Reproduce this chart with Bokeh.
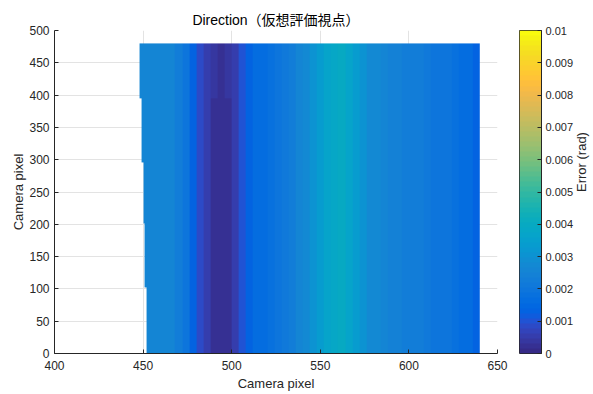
import numpy as np
from bokeh.plotting import figure
from bokeh.layouts import row
from bokeh.models import LinearColorMapper, FixedTicker, Range1d, LinearAxis
from bokeh.embed import file_html
from bokeh.resources import INLINE

FONT = "Liberation Sans, Noto Sans CJK JP"
TXT = "#262626"

title_text = "Direction（仮想評価視点）"
x_label = "Camera pixel"
y_label = "Camera pixel"
cb_label = "Error (rad)"

x_ticks = [400, 450, 500, 550, 600, 650]
y_ticks = [0, 50, 100, 150, 200, 250, 300, 350, 400, 450, 500]
cb_ticks = [0, 0.001, 0.002, 0.003, 0.004, 0.005, 0.006, 0.007, 0.008, 0.009, 0.01]
cb_tick_labels = ["0", "0.001", "0.002", "0.003", "0.004", "0.005", "0.006",
                  "0.007", "0.008", "0.009", "0.01"]

# column start positions (each column 4 camera pixels wide) and mid-height error profile
col_x = [448, 452, 456, 460, 464, 468, 472, 476, 480, 484, 488, 492, 496, 500, 504,
         508, 512, 516, 520, 524, 528, 532, 536, 540, 544, 548, 552, 556, 560, 564,
         568, 572, 576, 580, 584, 588, 592, 596, 600, 604, 608, 612, 616, 620, 624,
         628, 632, 636]
err_mid = [0.0026, 0.0026, 0.0026, 0.0026, 0.0025, 0.0023, 0.0019, 0.0013, 0.0009,
           0.0005, 0.0003, 0.0002, 0.0003, 0.0006, 0.0010, 0.0014, 0.0016, 0.0017,
           0.0018, 0.0019, 0.0021, 0.0023, 0.0025, 0.0027, 0.0030, 0.0033, 0.0036,
           0.0039, 0.0040, 0.0037, 0.0033, 0.0030, 0.0028, 0.0027, 0.0025, 0.0024,
           0.0024, 0.0023, 0.0023, 0.0022, 0.0021, 0.0020, 0.0020, 0.0019, 0.0018,
           0.0017, 0.0016, 0.0014]
x_right = 640

# horizontal bands (bottom to top), their left edge, and the dark-band values per band
band_bottom = [0, 102, 201, 296, 395]
band_top = [102, 201, 296, 395, 480]
band_left = [452, 451, 450, 449, 448]
dark_x = [480, 484, 488, 492, 496, 500, 504]
dark_by_band = [
    [0.0009, 0.0005, 0.0003, 0.0002, 0.0003, 0.0006, 0.0010],
    [0.0009, 0.0005, 0.0003, 0.0002, 0.0003, 0.0006, 0.0010],
    [0.0009, 0.0005, 0.0003, 0.0002, 0.0003, 0.0006, 0.0010],
    [0.0009, 0.0005, 0.0003, 0.0002, 0.0003, 0.0006, 0.0010],
    [0.0009, 0.0005, 0.0004, 0.0003, 0.0004, 0.0006, 0.0010],
]

# parula colormap
parula = [
    (0.2081, 0.1663, 0.5292), (0.2116, 0.1898, 0.5777), (0.2123, 0.2138, 0.6270),
    (0.2081, 0.2386, 0.6771), (0.1959, 0.2645, 0.7279), (0.1707, 0.2919, 0.7792),
    (0.1253, 0.3242, 0.8303), (0.0591, 0.3598, 0.8683), (0.0117, 0.3875, 0.8820),
    (0.0060, 0.4086, 0.8828), (0.0165, 0.4266, 0.8786), (0.0329, 0.4430, 0.8720),
    (0.0498, 0.4586, 0.8641), (0.0629, 0.4737, 0.8554), (0.0723, 0.4887, 0.8467),
    (0.0779, 0.5040, 0.8384), (0.0793, 0.5200, 0.8312), (0.0749, 0.5375, 0.8263),
    (0.0641, 0.5570, 0.8240), (0.0488, 0.5772, 0.8228), (0.0343, 0.5966, 0.8199),
    (0.0265, 0.6137, 0.8135), (0.0239, 0.6287, 0.8038), (0.0231, 0.6418, 0.7913),
    (0.0228, 0.6535, 0.7768), (0.0267, 0.6642, 0.7607), (0.0384, 0.6743, 0.7436),
    (0.0590, 0.6838, 0.7254), (0.0843, 0.6928, 0.7062), (0.1133, 0.7015, 0.6859),
    (0.1453, 0.7098, 0.6646), (0.1801, 0.7177, 0.6424), (0.2178, 0.7250, 0.6193),
    (0.2586, 0.7317, 0.5954), (0.3022, 0.7376, 0.5712), (0.3482, 0.7424, 0.5473),
    (0.3953, 0.7459, 0.5244), (0.4420, 0.7481, 0.5033), (0.4871, 0.7491, 0.4840),
    (0.5300, 0.7491, 0.4661), (0.5709, 0.7485, 0.4494), (0.6099, 0.7473, 0.4337),
    (0.6473, 0.7456, 0.4188), (0.6834, 0.7435, 0.4044), (0.7184, 0.7411, 0.3905),
    (0.7525, 0.7384, 0.3768), (0.7858, 0.7356, 0.3633), (0.8185, 0.7327, 0.3498),
    (0.8507, 0.7299, 0.3360), (0.8824, 0.7274, 0.3217), (0.9139, 0.7258, 0.3063),
    (0.9450, 0.7261, 0.2886), (0.9739, 0.7314, 0.2666), (0.9938, 0.7455, 0.2403),
    (0.9990, 0.7653, 0.2164), (0.9955, 0.7861, 0.1967), (0.9880, 0.8066, 0.1794),
    (0.9789, 0.8271, 0.1633), (0.9697, 0.8481, 0.1475), (0.9626, 0.8705, 0.1309),
    (0.9589, 0.8949, 0.1132), (0.9598, 0.9218, 0.0948), (0.9661, 0.9514, 0.0755),
    (0.9763, 0.9831, 0.0538),
]
palette = ["#%02x%02x%02x" % tuple(int(round(c * 255)) for c in rgb) for rgb in parula]
mapper = LinearColorMapper(palette=palette, low=cb_ticks[0], high=cb_ticks[-1],
                           nan_color=(0, 0, 0, 0))

# build the image grid (1 camera pixel per cell) from the arrays above
x0, y0 = col_x[0], band_bottom[0]
ncols = x_right - x0
nrows = band_top[-1] - y0
grid = np.full((nrows, ncols), np.nan)
for b in range(len(band_bottom)):
    vals = list(err_mid)
    for dx, dv in zip(dark_x, dark_by_band[b]):
        vals[col_x.index(dx)] = dv
    line = np.repeat(np.array(vals), 4)[:ncols]
    line[: band_left[b] - x0] = np.nan
    grid[band_bottom[b] - y0: band_top[b] - y0, :] = line

p = figure(frame_width=443, frame_height=323, min_border_left=54, min_border_right=22,
           min_border_top=30, min_border_bottom=41,
           x_range=Range1d(x_ticks[0], x_ticks[-1]), y_range=Range1d(y_ticks[0], y_ticks[-1]),
           output_backend="svg", toolbar_location=None)
p.image(image=[grid], x=x0, y=y0, dw=ncols, dh=nrows, color_mapper=mapper)

p.title.text = title_text
p.title.align = "center"
p.title.text_font = FONT
p.title.text_font_size = "14px"
p.title.text_font_style = "normal"
p.title.text_color = "#000000"
p.title.standoff = 5

p.outline_line_color = None
p.grid.grid_line_color = "#e3e3e3"
p.xaxis.ticker = FixedTicker(ticks=x_ticks)
p.yaxis.ticker = FixedTicker(ticks=y_ticks)
for ax in (p.xaxis[0], p.yaxis[0]):
    ax.major_tick_in = 4
    ax.major_tick_out = 0
    ax.minor_tick_line_color = None
    ax.axis_line_color = TXT
    ax.major_tick_line_color = TXT
    ax.major_label_text_color = TXT
    ax.major_label_text_font = FONT
    ax.major_label_text_font_size = "12px"
    ax.axis_label_text_font = FONT
    ax.axis_label_text_font_size = "13px"
    ax.axis_label_text_font_style = "normal"
    ax.axis_label_text_color = TXT
p.xaxis.axis_label = x_label
p.yaxis.axis_label = y_label
p.xaxis.major_label_standoff = 7
p.xaxis.axis_label_standoff = 3
p.yaxis.major_label_standoff = 5
p.yaxis.axis_label_standoff = 0

# colour bar as its own small figure
p2 = figure(frame_width=22, frame_height=323, min_border_left=0, min_border_right=50,
            min_border_top=30, min_border_bottom=41,
            x_range=Range1d(0, 1), y_range=Range1d(cb_ticks[0], cb_ticks[-1]),
            output_backend="svg", toolbar_location=None)
levels = np.linspace(cb_ticks[0], cb_ticks[-1], len(palette) * 4).reshape(-1, 1)
p2.image(image=[levels], x=0, y=cb_ticks[0], dw=1, dh=cb_ticks[-1] - cb_ticks[0],
         color_mapper=mapper)
p2.xaxis.visible = False
p2.yaxis.visible = False
p2.grid.visible = False
p2.outline_line_color = TXT
cax = LinearAxis(ticker=FixedTicker(ticks=cb_ticks),
                 major_label_overrides={t: s for t, s in zip(cb_ticks, cb_tick_labels)})
cax.major_tick_in = 4
cax.major_tick_out = 0
cax.minor_tick_line_color = None
cax.axis_line_color = TXT
cax.major_tick_line_color = TXT
cax.major_label_text_color = TXT
cax.major_label_text_font = FONT
cax.major_label_text_font_size = "11px"
cax.major_label_standoff = 4
cax.axis_label = cb_label
cax.axis_label_text_font = FONT
cax.axis_label_text_font_size = "13px"
cax.axis_label_text_font_style = "normal"
cax.axis_label_text_color = TXT
cax.axis_label_standoff = 5
try:
    cax.axis_label_orientation = np.pi / 2
except Exception:
    pass
p2.add_layout(cax, "right")

layout = row(p, p2)
open("out.html", "w").write(file_html(layout, INLINE))
